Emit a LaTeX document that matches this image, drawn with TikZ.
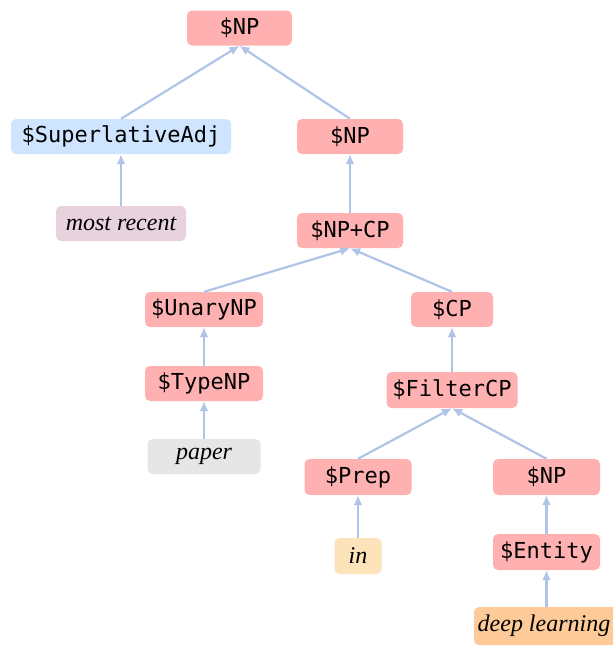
\documentclass[tikz,border=0pt]{standalone}
\usepackage{fontspec}
\setmainfont{Liberation Serif}
\newfontfamily\codefont{DejaVu Sans Mono}
\usetikzlibrary{arrows.meta}
\definecolor{catred}{RGB}{255,176,176}
\definecolor{catblue}{RGB}{206,228,255}
\definecolor{lexmauve}{RGB}{232,210,222}
\definecolor{lexgray}{RGB}{230,230,230}
\definecolor{lexpeach}{RGB}{253,227,186}
\definecolor{lexorange}{RGB}{253,202,152}
\definecolor{edgeblue}{RGB}{176,196,232}
\tikzset{
  box/.style={rounded corners=5pt, inner sep=0pt, minimum height=35pt, align=center},
  cat/.style={box, fill=catred, font=\codefont\fontsize{22}{24}\selectfont},
  supcat/.style={box, fill=catblue, font=\codefont\fontsize{22}{24}\selectfont},
  lex/.style={box, font=\fontsize{24}{26}\selectfont\itshape},
  edge/.style={draw=edgeblue, line width=2.2pt, -{Latex[length=10pt,width=9pt]}}
}
\begin{document}
\begin{tikzpicture}[x=1pt,y=-1pt]
\useasboundingbox (0,0) rectangle (613,648);
% categories
\node[cat, minimum width=105pt] (np1) at (239.5,28) {\$NP};
\node[supcat, minimum width=220pt] (sup) at (121,136.5) {\$SuperlativeAdj};
\node[cat, minimum width=106pt] (np2) at (350,136.5) {\$NP};
\node[cat, minimum width=106pt] (npcp) at (350,230.5) {\$NP+CP};
\node[cat, minimum width=118pt] (unary) at (204,309.5) {\$UnaryNP};
\node[cat, minimum width=82pt] (cp) at (452,309.5) {\$CP};
\node[cat, minimum width=118pt] (type) at (204,383.5) {\$TypeNP};
\node[cat, minimum width=131pt, minimum height=36pt] (filter) at (452,390) {\$FilterCP};
\node[cat, minimum width=107pt, minimum height=36pt] (prep) at (358,477) {\$Prep};
\node[cat, minimum width=107pt, minimum height=36pt] (np3) at (546.5,477) {\$NP};
\node[cat, minimum width=107pt, minimum height=36pt] (entity) at (546.5,552) {\$Entity};
% lexical items
\node[lex, fill=lexmauve, minimum width=130pt] (recent) at (121,223.5) {most recent};
\node[lex, fill=lexgray, minimum width=113pt] (paper) at (204,456.5) {paper};
\node[lex, fill=lexpeach, minimum width=47pt, minimum height=36pt] (in) at (358,556) {in};
\node[lex, fill=lexorange, minimum width=145pt, minimum height=38pt] (deep) at (546.5,626) {\hspace*{-5pt}deep learning};
% connectors
\draw[edge] (sup.north) -- (np1.south);
\draw[edge] (np2.north) -- (np1.south);
\draw[edge] (recent.north) -- (sup.south);
\draw[edge] (npcp.north) -- (np2.south);
\draw[edge] (unary.north) -- (npcp.south);
\draw[edge] (cp.north) -- (npcp.south);
\draw[edge] (type.north) -- (unary.south);
\draw[edge] (paper.north) -- (type.south);
\draw[edge] (filter.north) -- (cp.south);
\draw[edge] (prep.north) -- (filter.south);
\draw[edge] (np3.north) -- (filter.south);
\draw[edge] (in.north) -- (prep.south);
\draw[edge] (entity.north) -- (np3.south);
\draw[edge] (deep.north) -- (entity.south);
\end{tikzpicture}
\end{document}
